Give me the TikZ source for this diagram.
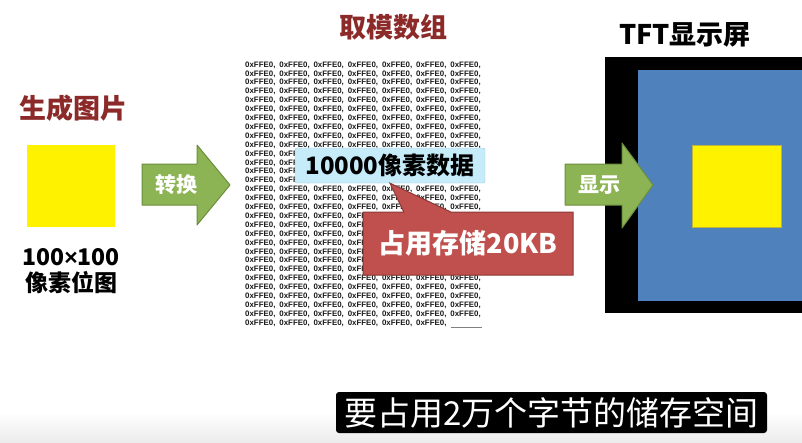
\documentclass[tikz,border=0pt]{standalone}
\usepackage{fontspec}
\setmainfont{Noto Sans CJK SC}
\newfontfamily\hexfont{Liberation Sans}
\usepackage{xcolor}
\usepackage{tikz}
\usetikzlibrary{shapes.callouts}

\definecolor{titlered}{RGB}{140,42,42}
\definecolor{arrowgreen}{RGB}{141,180,84}
\definecolor{arrowedge}{RGB}{108,142,60}
\definecolor{tipblue}{RGB}{198,236,250}
\definecolor{tipedge}{RGB}{150,200,225}
\definecolor{warnred}{RGB}{192,80,77}
\definecolor{warnedge}{RGB}{140,56,54}
\definecolor{screenblue}{RGB}{79,129,189}

\begin{document}
\begin{tikzpicture}[x=1pt,y=-1pt,
  title/.style={font=\fontsize{27}{30}\selectfont\bfseries,text=titlered,inner sep=0},
  caption/.style={font=\fontsize{23}{26}\selectfont\bfseries,align=center,inner sep=0},
  hex/.style={font=\hexfont\bfseries\fontsize{7.9}{8}\selectfont,anchor=west,inner sep=0,
    text=black!90},
  bigarrow/.style={fill=arrowgreen,draw=arrowedge,line width=1pt,line join=round},
  arrowtext/.style={font=\fontsize{21}{24}\selectfont\bfseries,text=white,inner sep=0},
  yellowsq/.style={fill=yellow,inner sep=0}
]
\useasboundingbox (0,0) rectangle (802,442);
\clip (0,0) rectangle (802,442);
\shade[top color=white,bottom color=gray!15] (0,412) rectangle (802,442);

\node[title] (gen) at (73,108) {生成图片};
\node[yellowsq,minimum width=88pt,minimum height=82pt] (img) at (71,186) {};
\node[caption] (size) at (71,271) {100{\hexfont\bfseries ×}100\\像素位图};

\draw[bigarrow] (142,164) -- (197,164) -- (197,145) -- (230,185) -- (197,225)
  -- (197,205) -- (142,205) -- cycle;
\node[arrowtext] (cvt) at (176,185) {转换};

\node[title] (arr) at (393,27) {取模数组};
\foreach \r in {0,...,28}
  \foreach \c in {0,...,6} {
    \pgfmathtruncatemacro\hide{(\r>9)*(\r<14)*(\c>1)+(\r>16)*(\r<24)*(\c>3)}
    \ifnum\hide=0
      \node[hex] (h\r-\c) at (245+\c*34.2,65+\r*8.9) {0xFFE0,};
    \fi
  }
\foreach \c in {0,...,5}
  \node[hex] (h29-\c) at (245+\c*34.2,323) {0xFFE0,};
\coordinate (gapstart) at (451,327);
\coordinate (gapend) at (482,327);
\draw[gray,line width=0.8pt] (gapstart) -- (gapend);

\node[fill=tipblue,draw=tipedge,rounded corners=2pt,minimum width=190pt,minimum height=35pt,
  inner sep=0,font=\fontsize{24}{26}\selectfont\bfseries] (px) at (390,165.5) {10000像素数据};
\node[rectangle callout,fill=warnred,draw=warnedge,line width=1pt,minimum width=210pt,
  minimum height=63pt,inner sep=0,callout absolute pointer={(px.south)},
  callout pointer width=47pt,text=white,font=\fontsize{27}{30}\selectfont\bfseries]
  (mem) at (468,243.5) {占用存储20KB};

\fill[black] (605,57) rectangle (830,313);
\fill[screenblue] (638,70) rectangle (830,301);
\node[yellowsq,draw=yellow!70!black,line width=0.6pt,minimum width=89pt,minimum height=82pt]
  (shown) at (736.5,186) {};
\node[title,text=black] (tft) at (685,35) {TFT显示屏};

\draw[bigarrow] (565,164) -- (622,164) -- (622,143) -- (653,185) -- (622,228)
  -- (622,205) -- (565,205) -- cycle;
\node[arrowtext] (show) at (599,185) {显示};

\node[fill=black,rounded corners=3pt,text=white,minimum width=431pt,minimum height=41pt,
  inner sep=0,font=\fontsize{33}{35}\selectfont] (sub) at (551.5,412.5) {要占用2万个字节的储存空间};
\end{tikzpicture}
\end{document}
